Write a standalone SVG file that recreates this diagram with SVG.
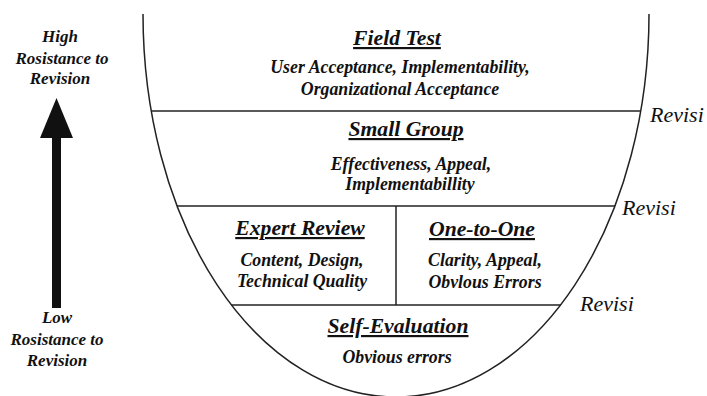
<svg xmlns="http://www.w3.org/2000/svg" width="707" height="396" viewBox="0 0 707 396">
<style>
text{font-family:'Liberation Serif','Tinos','DejaVu Serif',serif;fill:#111}
.t{font-style:italic;font-weight:bold;font-size:21.7px;text-anchor:middle;text-decoration:underline}
.s{font-style:italic;font-weight:bold;font-size:17.8px;text-anchor:middle}
.l{font-style:italic;font-weight:bold;font-size:17px;text-anchor:middle}
.r{font-style:italic;font-size:22px}
.ln{stroke:#222;stroke-width:1.5;fill:none}
</style>
<rect width="707" height="396" fill="#fff"/>
<g id="cup">
<path class="ln" d="M143 14 A253 383 0 0 0 649 14"/>
</g>
<g id="connectors">
<line class="ln" x1="151" y1="111" x2="641" y2="111"/>
<line class="ln" x1="177" y1="206" x2="615" y2="206"/>
<line class="ln" x1="231" y1="305" x2="561" y2="305"/>
<line class="ln" x1="396" y1="206" x2="396" y2="305"/>
</g>
<g id="field-test">
<text class="t" x="397" y="45">Field Test</text>
<text class="s" x="400" y="73">User Acceptance, Implementability,</text>
<text class="s" x="400" y="95">Organizational Acceptance</text>
</g>
<g id="small-group">
<text class="t" x="406" y="136">Small Group</text>
<text class="s" x="411" y="170">Effectiveness, Appeal,</text>
<text class="s" x="410" y="190">Implementabillity</text>
</g>
<g id="expert-review">
<text class="t" x="300" y="235">Expert Review</text>
<text class="s" x="302" y="266">Content, Design,</text>
<text class="s" x="302" y="287">Technical Quality</text>
</g>
<g id="one-to-one">
<text class="t" x="482" y="236">One-to-One</text>
<text class="s" x="485" y="266">Clarity, Appeal,</text>
<text class="s" x="485" y="288">Obvlous Errors</text>
</g>
<g id="self-evaluation">
<text class="t" x="398" y="333">Self-Evaluation</text>
<text class="s" x="397" y="363">Obvious errors</text>
</g>
<g id="revisions">
<text class="r" x="650" y="122">Revisi</text>
<text class="r" x="622" y="215">Revisi</text>
<text class="r" x="580" y="311">Revisi</text>
</g>
<g id="resistance-arrow">
<rect x="52" y="137" width="9" height="171" fill="#111"/>
<polygon points="56.5,98 40,138 73,138" fill="#111"/>
<text class="l" x="60" y="42">High</text>
<text class="l" x="62" y="64">Rosistance to</text>
<text class="l" x="60" y="84">Revision</text>
<text class="l" x="57" y="323">Low</text>
<text class="l" x="57" y="345">Rosistance to</text>
<text class="l" x="57" y="366">Revision</text>
</g>
</svg>
